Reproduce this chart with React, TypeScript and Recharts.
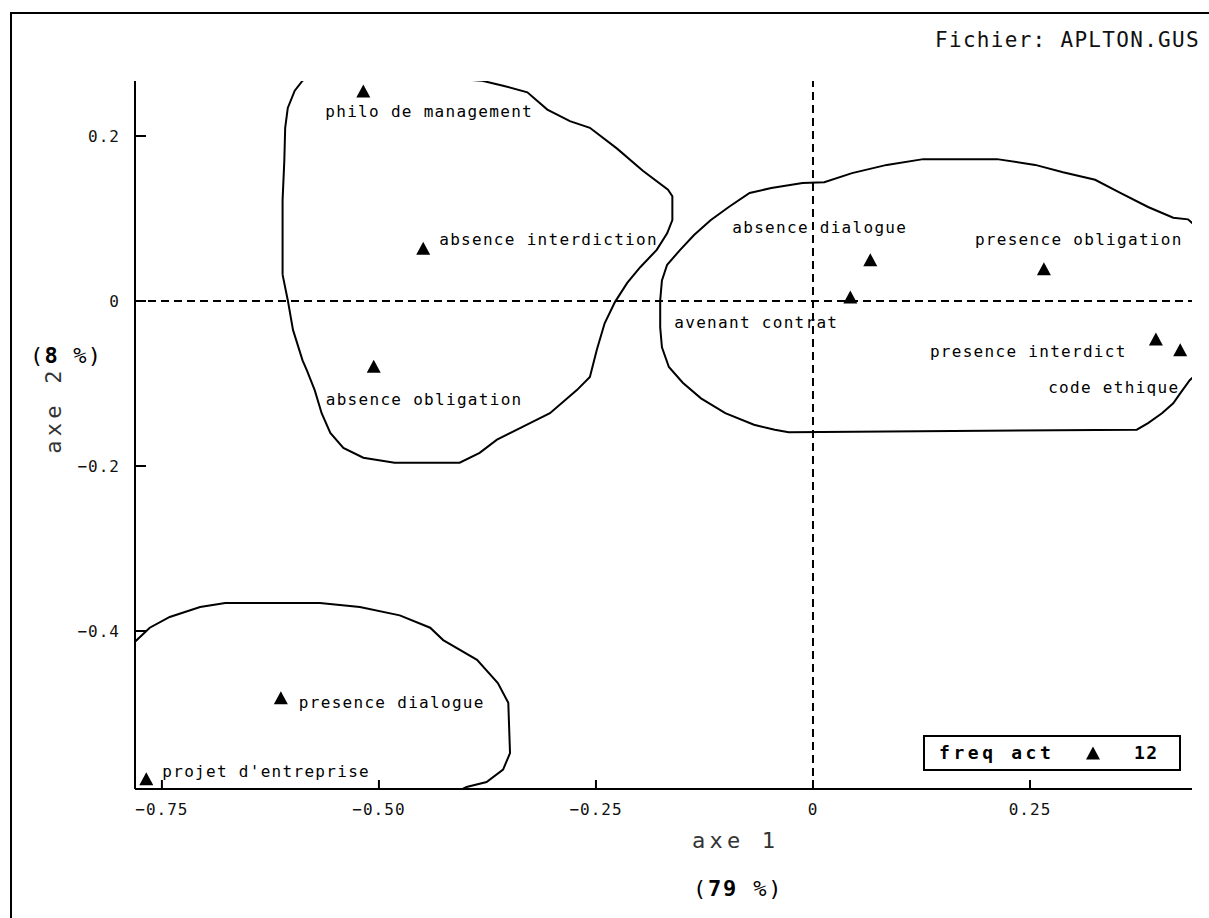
import React from 'react'
import { Legend, ReferenceLine, Scatter, ScatterChart, XAxis, YAxis } from 'recharts'

// points of the factorial map
const categories = [
  'philo de management',
  'absence interdiction',
  'absence obligation',
  'absence dialogue',
  'avenant contrat',
  'presence obligation',
  'presence interdict',
  'code ethique',
  'presence dialogue',
  "projet d'entreprise",
]
const axis1 = [-0.518, -0.449, -0.506, 0.066, 0.043, 0.266, 0.395, 0.423, -0.613, -0.768]
const axis2 = [0.2545, 0.064, -0.079, 0.05, 0.005, 0.039, -0.046, -0.059, -0.481, -0.579]

const xTicks = [-0.75, -0.5, -0.25, 0, 0.25]
const xTickLabels = ['−0.75', '−0.50', '−0.25', '0', '0.25']
const yTicks = [0.2, 0, -0.2, -0.4]
const yTickLabels = ['0.2', '0', '−0.2', '−0.4']

const xDomain = [-0.781, 0.4366]
const yDomain = [-0.5915, 0.2667]

const seriesName = 'freq act'
const legendCount = 12

// cluster outlines, [axe 1, axe 2]
const contourTop = [
  [-0.611, 0.032], [-0.611, 0.122], [-0.609, 0.17], [-0.608, 0.21], [-0.605, 0.234],
  [-0.597, 0.255], [-0.588, 0.267], [-0.568, 0.282], [-0.499, 0.292], [-0.43, 0.28],
  [-0.407, 0.269], [-0.381, 0.267], [-0.357, 0.261], [-0.329, 0.253], [-0.306, 0.232],
  [-0.28, 0.218], [-0.257, 0.21], [-0.226, 0.185], [-0.196, 0.158], [-0.167, 0.135],
  [-0.162, 0.127], [-0.162, 0.098], [-0.168, 0.082], [-0.18, 0.062], [-0.199, 0.041],
  [-0.214, 0.022], [-0.228, -0.001], [-0.24, -0.027], [-0.249, -0.059], [-0.257, -0.092],
  [-0.272, -0.108], [-0.303, -0.136], [-0.326, -0.148], [-0.364, -0.168], [-0.384, -0.184],
  [-0.407, -0.196], [-0.482, -0.196], [-0.518, -0.19], [-0.541, -0.178], [-0.556, -0.16],
  [-0.566, -0.136], [-0.574, -0.108], [-0.583, -0.084], [-0.588, -0.072], [-0.599, -0.035],
  [-0.605, 0.001], [-0.611, 0.032],
]
const contourRight = [
  [-0.176, 0.001], [-0.174, 0.025], [-0.168, 0.044], [-0.153, 0.062], [-0.137, 0.08],
  [-0.118, 0.098], [-0.097, 0.114], [-0.073, 0.131], [-0.048, 0.137], [-0.012, 0.143],
  [0.013, 0.144], [0.045, 0.155], [0.085, 0.165], [0.127, 0.172], [0.212, 0.172],
  [0.256, 0.165], [0.288, 0.156], [0.325, 0.147], [0.354, 0.131], [0.386, 0.114],
  [0.415, 0.101], [0.432, 0.099], [0.452, 0.08], [0.463, 0.001], [0.452, -0.078],
  [0.434, -0.096], [0.423, -0.112], [0.415, -0.124], [0.402, -0.136], [0.386, -0.148],
  [0.373, -0.156], [-0.028, -0.159], [-0.044, -0.156], [-0.068, -0.15], [-0.101, -0.136],
  [-0.129, -0.118], [-0.15, -0.099], [-0.166, -0.08], [-0.174, -0.056], [-0.176, -0.032],
  [-0.176, 0.001],
]
const contourBottom = [
  [-0.798, -0.484], [-0.781, -0.413], [-0.764, -0.396], [-0.741, -0.383], [-0.706, -0.371],
  [-0.677, -0.366], [-0.568, -0.366], [-0.522, -0.371], [-0.476, -0.381], [-0.441, -0.396],
  [-0.426, -0.411], [-0.387, -0.435], [-0.363, -0.463], [-0.351, -0.487], [-0.349, -0.548],
  [-0.357, -0.568], [-0.376, -0.583], [-0.399, -0.589], [-0.43, -0.605], [-0.764, -0.619],
  [-0.81, -0.556], [-0.798, -0.484],
]

// where each label sits relative to its marker (px)
const labelPlacement: Record<string, { dx: number; dy: number }> = {
  'philo de management': { dx: -38, dy: 20 },
  'absence interdiction': { dx: 16, dy: -9 },
  'absence obligation': { dx: -48, dy: 33 },
  'absence dialogue': { dx: -138, dy: -32 },
  'avenant contrat': { dx: -176, dy: 26 },
  'presence obligation': { dx: -69, dy: -29 },
  'presence interdict': { dx: -226, dy: 13 },
  'code ethique': { dx: -132, dy: 38 },
  'presence dialogue': { dx: 18, dy: 5 },
  "projet d'entreprise": { dx: 16, dy: -7 },
}

const FONT = '"DejaVu Sans Mono", "Liberation Mono", monospace'
const TICK_LEN_X = 9
const TICK_LEN_Y = 11

const points = categories.map((name, i) => ({ name, x: axis1[i], y: axis2[i] }))
const toRows = (c: number[][]) => c.map(([x, y]) => ({ x, y }))

const TriangleMark = (props: any) => {
  const { cx, cy, payload } = props
  const p = labelPlacement[payload.name] || { dx: 10, dy: 0 }
  return (
    <g>
      <path d={`M${cx},${cy - 6.5}L${cx + 7},${cy + 6.5}L${cx - 7},${cy + 6.5}Z`} fill="#000" />
      <text
        x={cx + p.dx}
        y={cy + p.dy}
        dominantBaseline="central"
        fontFamily={FONT}
        fontSize={16}
        letterSpacing={1.3}
        fill="#000"
      >
        {payload.name}
      </text>
    </g>
  )
}

// bottom axis: tickSize 0, tickMargin 20 -> y is 20px under the frame
const XTick = (props: any) => {
  const { x, y, payload } = props
  const base = y - 20
  return (
    <g>
      <line x1={x} x2={x} y1={base} y2={base - TICK_LEN_X} stroke="#000" strokeWidth={2} />
      <text x={x} y={y} textAnchor="middle" dominantBaseline="central" fontFamily={FONT} fontSize={16} letterSpacing={1} fill="#111">
        {xTickLabels[xTicks.indexOf(payload.value)]}
      </text>
    </g>
  )
}

// top axis: tickSize 0, tickMargin 0 -> y is the frame
const XTopTick = (props: any) => {
  const { x, y } = props
  return <line x1={x} x2={x} y1={y} y2={y + TICK_LEN_X} stroke="#000" strokeWidth={2} />
}

// left axis: tickSize 0, tickMargin 15 -> x is 15px left of the frame
const YTick = (props: any) => {
  const { x, y, payload } = props
  const base = x + 15
  return (
    <g>
      <line x1={base} x2={base + TICK_LEN_Y} y1={y} y2={y} stroke="#000" strokeWidth={2} />
      <text x={x} y={y} textAnchor="end" dominantBaseline="central" fontFamily={FONT} fontSize={16} letterSpacing={1} fill="#111">
        {yTickLabels[yTicks.indexOf(payload.value)]}
      </text>
    </g>
  )
}

// right axis: tickSize 0, tickMargin 0 -> x is the frame
const YRightTick = (props: any) => {
  const { x, y } = props
  return <line x1={x} x2={x - TICK_LEN_Y} y1={y} y2={y} stroke="#000" strokeWidth={2} />
}

const LegendBox = (props: any) => {
  const item = (props.payload || []).find((p: any) => p.value === seriesName)
  return (
    <div
      style={{
        position: 'relative',
        width: 258,
        height: 36,
        boxSizing: 'border-box',
        border: '2px solid #000',
        fontFamily: FONT,
        fontWeight: 'bold',
        fontSize: 18,
        letterSpacing: 3.6,
        lineHeight: '32px',
        color: '#000',
        background: '#fff',
      }}
    >
      <span style={{ position: 'absolute', left: 14, top: 0 }}>{item ? item.value : seriesName}</span>
      <svg style={{ position: 'absolute', left: 161, top: 9 }} width={14} height={14}>
        <path d="M7,0.5L14,13.5L0,13.5Z" fill="#000" />
      </svg>
      <span style={{ position: 'absolute', left: 209, top: 0, letterSpacing: 1.5 }}>{legendCount}</span>
    </div>
  )
}

const noShape = () => <g />

export default function App() {
  return (
    <div style={{ position: 'absolute', left: 0, top: 0, width: 1209, height: 918, background: '#fff', overflow: 'hidden' }}>
      <div style={{ position: 'absolute', left: 10, top: 12, width: 1220, height: 930, borderLeft: '2px solid #000', borderTop: '2px solid #000' }} />
      <ScatterChart width={1209} height={918} margin={{ top: 81, right: 17, bottom: 89, left: 55 }}>
        <XAxis
          type="number"
          dataKey="x"
          domain={xDomain}
          ticks={xTicks}
          allowDataOverflow
          interval={0}
          height={40}
          tickSize={0}
          tickMargin={20}
          axisLine={{ stroke: '#000', strokeWidth: 2 }}
          tickLine={false}
          tick={<XTick />}
        />
        <XAxis
          xAxisId="top"
          orientation="top"
          type="number"
          dataKey="x"
          domain={xDomain}
          ticks={xTicks}
          allowDataOverflow
          interval={0}
          height={0}
          tickSize={0}
          tickMargin={0}
          axisLine={{ stroke: '#000', strokeWidth: 2 }}
          tickLine={false}
          tick={<XTopTick />}
        />
        <YAxis
          type="number"
          dataKey="y"
          domain={yDomain}
          ticks={yTicks}
          allowDataOverflow
          interval={0}
          width={80}
          tickSize={0}
          tickMargin={15}
          axisLine={{ stroke: '#000', strokeWidth: 2 }}
          tickLine={false}
          tick={<YTick />}
        />
        <YAxis
          yAxisId="right"
          orientation="right"
          type="number"
          dataKey="y"
          domain={yDomain}
          ticks={yTicks}
          allowDataOverflow
          interval={0}
          width={0}
          tickSize={0}
          tickMargin={0}
          axisLine={{ stroke: '#000', strokeWidth: 2 }}
          tickLine={false}
          tick={<YRightTick />}
        />
        <ReferenceLine x={0} stroke="#000" strokeWidth={2} strokeDasharray="8 5" />
        <ReferenceLine y={0} stroke="#000" strokeWidth={2} strokeDasharray="8 5" />
        <Scatter name="c1" data={toRows(contourTop)} line={{ stroke: '#000', strokeWidth: 2 }} lineType="joint" shape={noShape} legendType="none" isAnimationActive={false} />
        <Scatter name="c2" data={toRows(contourRight)} line={{ stroke: '#000', strokeWidth: 2 }} lineType="joint" shape={noShape} legendType="none" isAnimationActive={false} />
        <Scatter name="c3" data={toRows(contourBottom)} line={{ stroke: '#000', strokeWidth: 2 }} lineType="joint" shape={noShape} legendType="none" isAnimationActive={false} />
        <Scatter name={seriesName} data={points} fill="#000" shape={<TriangleMark />} legendType="triangle" isAnimationActive={false} />
        <Legend
          layout="horizontal"
          align="center"
          verticalAlign="middle"
          content={<LegendBox />}
          wrapperStyle={{ left: 923, top: 735, width: 258, height: 36 }}
        />
      </ScatterChart>
      <svg style={{ position: 'absolute', left: 0, top: 0, pointerEvents: 'none' }} width={1209} height={918}>
        <text x={935} y={47} fontFamily={FONT} fontSize={21} letterSpacing={1.3} fill="#111">
          Fichier: APLTON.GUS
        </text>
        <text x={692} y={848} fontFamily={FONT} fontSize={22} letterSpacing={4.2} fill="#333">
          axe 1
        </text>
        <text x={693} y={896} fontFamily={FONT} fontSize={22} letterSpacing={1.8} fill="#000">
          (<tspan fontWeight="bold">79</tspan> %)
        </text>
        <text x={61} y={410} textAnchor="middle" transform="rotate(-90, 61, 410)" fontFamily={FONT} fontSize={22} letterSpacing={4.2} fill="#333">
          axe 2
        </text>
        <text x={30} y={363} fontFamily={FONT} fontSize={22} letterSpacing={1.2} fill="#000">
          (<tspan fontWeight="bold">8</tspan> %)
        </text>
      </svg>
    </div>
  )
}
